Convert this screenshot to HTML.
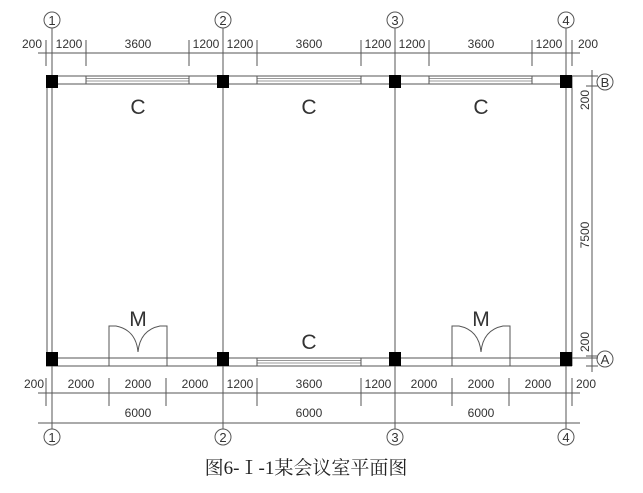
<!DOCTYPE html>
<html><head><meta charset="utf-8"><style>
html,body{margin:0;padding:0;background:#fff;}
svg{display:block;}
text{font-family:"Liberation Sans","Noto Sans CJK SC",sans-serif;fill:#333;}
</style></head><body>
<svg width="643" height="493" viewBox="0 0 643 493" xmlns="http://www.w3.org/2000/svg">
<g stroke="#555" fill="none" stroke-width="1">
<line x1="52" y1="28" x2="52" y2="429"/>
<line x1="223" y1="28" x2="223" y2="429"/>
<line x1="395" y1="28" x2="395" y2="429"/>
<line x1="566" y1="28" x2="566" y2="429"/>
<line x1="47" y1="76" x2="47" y2="366"/>
<line x1="572" y1="76" x2="572" y2="366"/>
<line x1="46" y1="76" x2="598" y2="76"/>
<line x1="46" y1="84" x2="572" y2="84"/>
<g stroke="#999">
<line x1="86" y1="78.5" x2="189" y2="78.5"/><line x1="86" y1="81" x2="189" y2="81"/>
<line x1="257" y1="78.5" x2="361" y2="78.5"/><line x1="257" y1="81" x2="361" y2="81"/>
<line x1="429" y1="78.5" x2="532" y2="78.5"/><line x1="429" y1="81" x2="532" y2="81"/>
<line x1="257" y1="360.5" x2="361" y2="360.5"/><line x1="257" y1="363" x2="361" y2="363"/>
</g>
<line x1="86" y1="76" x2="86" y2="84"/><line x1="189" y1="76" x2="189" y2="84"/>
<line x1="257" y1="76" x2="257" y2="84"/><line x1="361" y1="76" x2="361" y2="84"/>
<line x1="429" y1="76" x2="429" y2="84"/><line x1="532" y1="76" x2="532" y2="84"/>
<line x1="46" y1="358" x2="598" y2="358"/>
<line x1="46" y1="366" x2="572" y2="366"/>
<line x1="257" y1="358" x2="257" y2="366"/><line x1="361" y1="358" x2="361" y2="366"/>
<path d="M109 366 V326 H116 Q136 330 138 352 Q140 330 160 326 H167 V366"/>
<path d="M452 366 V326 H459 Q479 330 481 352 Q483 330 503 326 H510 V366"/>
<line x1="38" y1="53" x2="580" y2="53"/>
<line x1="46" y1="40" x2="46" y2="66"/><line x1="86" y1="40" x2="86" y2="66"/>
<line x1="189" y1="40" x2="189" y2="66"/><line x1="257" y1="40" x2="257" y2="66"/>
<line x1="361" y1="40" x2="361" y2="66"/><line x1="429" y1="40" x2="429" y2="66"/>
<line x1="532" y1="40" x2="532" y2="66"/><line x1="572" y1="40" x2="572" y2="66"/>
<line x1="38" y1="393" x2="580" y2="393"/>
<line x1="38" y1="423" x2="580" y2="423"/>
<line x1="46" y1="378" x2="46" y2="406"/><line x1="109" y1="378" x2="109" y2="406"/>
<line x1="166" y1="378" x2="166" y2="406"/><line x1="257" y1="378" x2="257" y2="406"/>
<line x1="361" y1="378" x2="361" y2="406"/><line x1="452" y1="378" x2="452" y2="406"/>
<line x1="509" y1="378" x2="509" y2="406"/><line x1="572" y1="378" x2="572" y2="406"/>
<line x1="592" y1="70" x2="592" y2="372"/>
<line x1="586" y1="76" x2="598" y2="76"/><line x1="586" y1="86" x2="598" y2="86"/>
<line x1="586" y1="356" x2="598" y2="356"/><line x1="586" y1="366" x2="598" y2="366"/>
<circle cx="52" cy="20" r="8"/><circle cx="223" cy="20" r="8"/>
<circle cx="395" cy="20" r="8"/><circle cx="566" cy="20" r="8"/>
<circle cx="52" cy="437" r="8"/><circle cx="223" cy="437" r="8"/>
<circle cx="395" cy="437" r="8"/><circle cx="566" cy="437" r="8"/>
<circle cx="605" cy="82" r="8"/><circle cx="605" cy="359" r="8"/>
</g>
<g fill="#000">
<rect x="46" y="75" width="12" height="13"/><rect x="217" y="75" width="12" height="13"/>
<rect x="389" y="75" width="12" height="13"/><rect x="560" y="75" width="12" height="13"/>
<rect x="46" y="352" width="12" height="14"/><rect x="217" y="352" width="12" height="14"/>
<rect x="389" y="352" width="12" height="14"/><rect x="560" y="352" width="12" height="14"/>
</g>
<g font-size="13" text-anchor="middle">
<text x="52" y="25">1</text><text x="223" y="25">2</text><text x="395" y="25">3</text><text x="566" y="25">4</text>
<text x="52" y="442">1</text><text x="223" y="442">2</text><text x="395" y="442">3</text><text x="566" y="442">4</text>
<text x="605" y="87">B</text><text x="605" y="364">A</text>
</g>
<g font-size="12" text-anchor="middle">
<text x="32" y="48">200</text><text x="69" y="48">1200</text><text x="138" y="48">3600</text>
<text x="206" y="48">1200</text><text x="240" y="48">1200</text><text x="309" y="48">3600</text>
<text x="378" y="48">1200</text><text x="412" y="48">1200</text><text x="481" y="48">3600</text>
<text x="549" y="48">1200</text><text x="588" y="48">200</text>
<text x="34" y="388">200</text><text x="81" y="388">2000</text><text x="138" y="388">2000</text>
<text x="195" y="388">2000</text><text x="240" y="388">1200</text><text x="309" y="388">3600</text>
<text x="378" y="388">1200</text><text x="424" y="388">2000</text><text x="481" y="388">2000</text>
<text x="538" y="388">2000</text><text x="586" y="388">200</text>
<text x="138" y="417">6000</text><text x="309" y="417">6000</text><text x="481" y="417">6000</text>
<text transform="translate(589,100) rotate(-90)">200</text>
<text transform="translate(589,235) rotate(-90)">7500</text>
<text transform="translate(589,342) rotate(-90)">200</text>
</g>
<g font-size="21" text-anchor="middle">
<text x="138" y="114">C</text><text x="309" y="114">C</text><text x="481" y="114">C</text>
<text x="309" y="349">C</text>
<text x="138" y="326">M</text><text x="481" y="326">M</text>
</g>
<text x="306" y="474" font-size="19" text-anchor="middle" style="font-family:'Liberation Serif','Noto Serif CJK SC',serif;fill:#222">图6-Ⅰ-1某会议室平面图</text>
</svg>
</body></html>
